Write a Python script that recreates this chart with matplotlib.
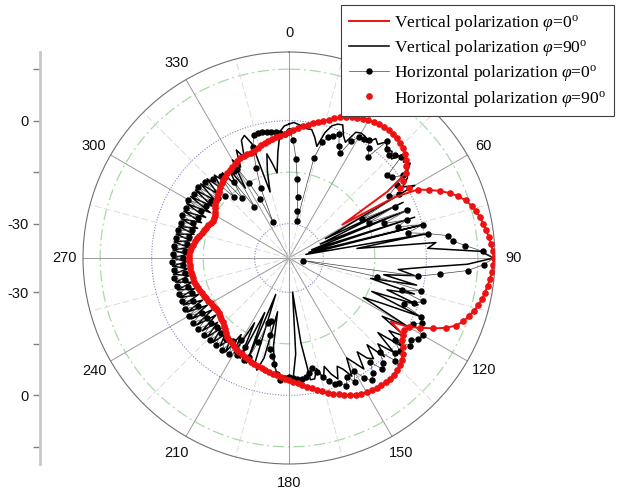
import numpy as np
import matplotlib
matplotlib.use("Agg")
import matplotlib.pyplot as plt

plt.rcParams['mathtext.fontset'] = 'custom'
plt.rcParams['mathtext.rm'] = 'Liberation Serif'
plt.rcParams['mathtext.it'] = 'Liberation Serif:italic'

# ---------------- data (dB, 2 degree steps) ----------------
theta_deg = np.arange(0, 360, 2)

# Vertical polarization phi=0 (red line)
v_phi0 = [
    -3.3, -2.7, -2.1, -1.4, -0.8, -0.2, 0.5, 1.1, 1.9, 2.8,
    3.6, 4.2, 4.8, 5.3, 5.8, 6.3, 6.7, 7.0, 7.2, 7.2,
    7.1, 6.9, 6.5, 6.0, 5.4, 4.6, 3.4, 2.0, -5.5, -21.7,
    -4.7, 2.4, 5.3, 8.0, 10.5, 12.5, 14.2, 15.3, 16.2, 16.9,
    17.5, 18.0, 18.5, 19.0, 19.4, 19.6, 19.5, 19.2, 18.8, 18.4,
    17.9, 17.5, 16.8, 16.0, 15.0, 14.0, 12.5, 10.0, 6.8, 3.2,
    0.2, -5.0, 0.2, 0.8, 2.0, 3.3, 4.2, 4.9, 5.4, 5.8,
    5.9, 5.9, 5.8, 5.6, 5.4, 5.2, 4.8, 4.3, 3.7, 3.0,
    2.3, 1.6, 0.8, 0.0, -0.7, -1.5, -2.2, -2.9, -3.5, -4.0,
    -4.4, -4.8, -5.2, -5.6, -5.9, -6.3, -6.7, -7.0, -7.2, -7.4,
    -7.8, -8.2, -8.5, -8.8, -9.0, -9.3, -9.7, -10.1, -10.5, -10.9,
    -11.5, -12.1, -12.6, -13.1, -13.5, -13.8, -14.0, -14.0, -13.9, -13.8,
    -13.6, -13.4, -13.2, -12.9, -12.6, -12.3, -12.1, -11.8, -11.6, -11.4,
    -11.3, -11.2, -11.1, -11.0, -10.9, -10.8, -10.9, -11.1, -11.4, -11.8,
    -12.2, -12.6, -13.1, -13.6, -14.0, -14.4, -14.7, -15.0, -15.3, -15.4,
    -15.2, -14.7, -14.0, -13.5, -13.1, -12.7, -12.2, -11.7, -11.2, -10.8,
    -10.3, -9.9, -9.5, -9.1, -8.7, -8.3, -8.0, -7.7, -7.5, -7.4,
    -7.3, -7.2, -6.8, -6.2, -5.7, -5.3, -5.0, -4.7, -4.3, -3.8,
]

# Vertical polarization phi=90 (black line)
v_phi90 = [
    -1.0, -0.5, -1.0, -1.5, -2.0, -2.0, -4.0, -6.5, -2.0, 0.5,
    1.5, 1.8, -1.0, -2.5, 1.5, 2.0, 1.8, 0.6, 3.0, 2.0,
    4.2, 2.5, 3.2, 1.5, 5.4, 3.5, 4.8, 2.5, 1.6, -1.0,
    2.3, -28, -3, -30, -2, -33, -1.5, -34, 0, -35,
    1, -20, 3, 0.5, 15.8, 19.6, 12, -0.8, -8, -3,
    -12, -2, -15.5, -2, -10, 0, -14, 2, -10, -15.5,
    0, -8, 1, -4, 2, -6.2, 1, -4, 0, -6,
    -1.7, -3, -6.2, -1, -4, -6.4, -1, -3.9, -5.5, -2,
    -4, -6.8, -3.5, -6.8, -4, -4, -15, -30, -12, -5,
    -5, -5.5, -5.2, -6, -9, -14, -24, -10, -6, -8,
    -28.7, -7, -22.6, -7.5, -18.6, -8, -13.7, -7, -11, -7.5,
    -11, -7, -11.5, -7, -12, -7, -13, -6.8, -13, -6.5,
    -12.5, -6.5, -12, -6.3, -11.5, -6.3, -11, -6.2, -10.8, -6.2,
    -10.5, -6.0, -10.3, -6.0, -10.2, -6.0, -10.3, -6.1, -10.6, -6.2,
    -11, -6.4, -11.5, -6.6, -12, -6.6, -12.5, -6.5, -13, -6.3,
    -13.5, -6.2, -13, -6.3, -12.5, -6.4, -12, -6.8, -11.5, -7.5,
    -11, -8.5, -14, -9, -16, -7, -10, -5, -8, -3,
    -2, -5, -20, -14, -9, -12, -15, -9, -3, -1.5,
]

# Horizontal polarization phi=0 (black dots)
h_phi0 = [
    -3.0, -5.5, -11, -17, -22, -26, -29, -10, -5, -3,
    -2.2, -1.0, -4.3, -6.0, -1.5, 0.6, 1.0, 1.5, -0.5, -2.5,
    4.4, 2.7, 1.8, 3.0, 3.8, -2.6, -1.9, 1.0, -2.0, -5.8,
    -3, -16, -5.8, -14.6, -3, -10.6, -4, -7, 0.2, -4.6,
    1.0, 6.8, 7.9, 11.5, 16.4, 19.6, 16.7, 12.2, 4.2, -2.0,
    -35.8, -13.8, -0.5, -5.7, 1.0, -1.4, -4.0, 2.0, 3.2, 0.8,
    5.0, 4.4, 2.7, 3.5, -1.0, 2.1, 1.4, 3.0, -2.0, 1.0,
    2.2, -1.5, 1.5, 3.0, 1.2, -2.0, 0.8, -1.5, 0.8, -0.8,
    -0.8, -2.3, -3.8, -5.8, -7.3, -6.0, -5.0, -4.5, -4.8, -5.0,
    -5.2, -5.0, -4.3, -6.0, -8.7, -11, -13, -17, -21, -20,
    -14, -9, -7.5, -11, -8, -12.3, -7, -11, -7, -10,
    -6.8, -10.5, -7, -11, -6.7, -10.5, -6.5, -10.5, -6.3, -10,
    -6.5, -10, -6.2, -9.5, -6.5, -9.8, -6.2, -9.5, -6.3, -9.0,
    -6.0, -9.3, -6.2, -9.0, -6.0, -9.0, -6.1, -9.5, -6.3, -10,
    -6.5, -10.2, -6.8, -10.5, -7, -10.2, -6.5, -11, -6.5, -11,
    -6.1, -11.5, -6.5, -12, -6.4, -13, -7, -14, -8, -16,
    -9, -18, -12.6, -22, -10, -10, -15.3, -20.8, -28.6, -18,
    -12, -6, -2.7, -2.6, -2.5, -2.6, -2.8, -3.0, -3.4, -3.8,
]

# Horizontal polarization phi=90 (red dots)
h_phi90 = [
    -3.3, -2.7, -2.1, -1.4, -0.8, -0.2, 0.5, 1.1, 1.9, 2.8,
    3.6, 4.2, 4.8, 5.3, 5.8, 6.3, 6.7, 7.0, 7.2, 7.2,
    7.1, 6.9, 6.5, 6.0, 5.4, 4.6, 3.4, 2.0, 0.0, -1.8,
    0.5, 2.4, 5.3, 8.0, 10.5, 12.5, 14.2, 15.3, 16.2, 16.9,
    17.5, 18.0, 18.5, 19.0, 19.4, 19.6, 19.5, 19.2, 18.8, 18.4,
    17.9, 17.5, 16.8, 16.0, 15.0, 14.0, 12.5, 10.0, 6.8, 3.2,
    0.2, -0.5, 0.2, 0.8, 2.0, 3.3, 4.2, 4.9, 5.4, 5.8,
    5.9, 5.9, 5.8, 5.6, 5.4, 5.2, 4.8, 4.3, 3.7, 3.0,
    2.3, 1.6, 0.8, 0.0, -0.7, -1.5, -2.2, -2.9, -3.5, -4.0,
    -4.4, -4.8, -5.2, -5.6, -5.9, -6.3, -6.7, -7.0, -7.2, -7.4,
    -7.8, -8.2, -8.5, -8.8, -9.0, -9.3, -9.7, -10.1, -10.5, -10.9,
    -11.5, -12.1, -12.6, -13.1, -13.5, -13.8, -14.0, -14.0, -13.9, -13.8,
    -13.6, -13.4, -13.2, -12.9, -12.6, -12.3, -12.1, -11.8, -11.6, -11.4,
    -11.3, -11.2, -11.1, -11.0, -10.9, -10.8, -10.9, -11.1, -11.4, -11.8,
    -12.2, -12.6, -13.1, -13.6, -14.0, -14.4, -14.7, -15.0, -15.3, -15.4,
    -15.2, -14.7, -14.0, -13.5, -13.1, -12.7, -12.2, -11.7, -11.2, -10.8,
    -10.3, -9.9, -9.5, -9.1, -8.7, -8.3, -8.0, -7.7, -7.5, -7.4,
    -7.3, -7.2, -6.8, -6.2, -5.7, -5.3, -5.0, -4.7, -4.3, -3.8,
]

series_labels = [
    r'Vertical polarization $\varphi$=0$^{\mathrm{o}}$',
    r'Vertical polarization $\varphi$=90$^{\mathrm{o}}$',
    r'Horizontal polarization $\varphi$=0$^{\mathrm{o}}$',
    r'Horizontal polarization $\varphi$=90$^{\mathrm{o}}$',
]

r_min, r_max = -40, 20
angle_ticks = list(range(0, 360, 30))
radial_major = [-30, 0]
radial_minor = [-15, 15]

# ---------------- figure ----------------
W, H = 619, 490
fig = plt.figure(figsize=(W / 100, H / 100), dpi=100)
cx, cy, R = 289, 258, 206
ax = fig.add_axes([(cx - R) / W, (H - cy - R) / H, 2 * R / W, 2 * R / H],
                  projection='polar')
ax.set_theta_zero_location('N')
ax.set_theta_direction(-1)
ax.set_ylim(r_min, r_max)
ax.grid(False)
ax.set_xticks([])
ax.set_yticks([])
ax.spines['polar'].set_color('#707070')
ax.spines['polar'].set_linewidth(0.8)

full = np.linspace(0, 2 * np.pi, 721)
for rv in radial_major:
    ax.plot(full, np.full_like(full, rv), ls=(0, (1, 1.6)), color='#7878b8',
            lw=0.75, zorder=1)
for rv in radial_minor:
    ax.plot(full, np.full_like(full, rv), ls=(0, (9, 3, 1.5, 3)),
            color='#a9d9a9', lw=0.9, zorder=1)
for a in angle_ticks:
    t = np.deg2rad(a)
    ax.plot([t, t], [r_min, r_max], color='#9a9a9a', lw=0.7, zorder=1)
    t2 = np.deg2rad(a + 15)
    ax.plot([t2, t2], [r_min, r_max], color='#dcdcdc', lw=0.7,
            ls=(0, (7, 3)), zorder=1)

r_lab = r_min + 225 / R * (r_max - r_min)
for a in angle_ticks:
    ax.text(np.deg2rad(a), r_lab, str(a), ha='center', va='center',
            fontsize=10.5, family='Liberation Sans', color='#111111',
            clip_on=False)

th = np.deg2rad(np.append(theta_deg, 360))
def closed(v):
    return np.append(v, v[0])

h1, = ax.plot(th, closed(v_phi0), color='#ee1111', lw=1.4, zorder=3,
              label=series_labels[0])
h2, = ax.plot(th, closed(v_phi90), color='black', lw=1.1, zorder=2,
              label=series_labels[1])
h3, = ax.plot(th, closed(h_phi0), color='#454545', lw=0.5, marker='o',
              ms=3.6, mfc='black', mec='black', zorder=2.5,
              label=series_labels[2])
h4, = ax.plot(th, closed(h_phi90), ls='none', marker='o', ms=3.8,
              mfc='#ee1111', mec='#ee1111', zorder=4, label=series_labels[3])

# ---------------- left radial axis ----------------
ax2 = fig.add_axes([40 / W, (H - cy - R) / H, 0.0001, 2 * R / H])
ax2.set_facecolor('none')
ax2.set_ylim(-(r_max - r_min), (r_max - r_min))
for s in ['top', 'right', 'bottom']:
    ax2.spines[s].set_visible(False)
ax2.spines['left'].set_color('#c8c8c8')
ax2.spines['left'].set_linewidth(2.0)
ax2.set_xticks([])
maj_pos, maj_lab = [], []
for v in radial_major:
    maj_pos += [v - r_min, -(v - r_min)]
    maj_lab += [str(v), str(v)]
ax2.set_yticks(maj_pos)
ax2.set_yticklabels(maj_lab, family='Liberation Sans', fontsize=10.5,
                    color='#111111')
min_pos = []
for v in radial_minor:
    min_pos += [v - r_min, -(v - r_min)]
ax2.set_yticks(min_pos, minor=True)
ax2.tick_params(axis='y', which='both', direction='out', length=5,
                width=1, color='#808080', pad=3)

# ---------------- legend ----------------
leg = fig.legend([h1, h2, h3, h4], series_labels, loc='upper right',
                 bbox_to_anchor=(614 / W, 1 - 5 / H), frameon=True,
                 fancybox=False, edgecolor='#404040', framealpha=1,
                 prop={'family': 'Liberation Serif', 'size': 12.6},
                 handlelength=2.3, handletextpad=0.3, labelspacing=0.3,
                 borderpad=0.45, borderaxespad=0)
leg.get_frame().set_linewidth(0.8)

fig.savefig('out.png', dpi=100)
